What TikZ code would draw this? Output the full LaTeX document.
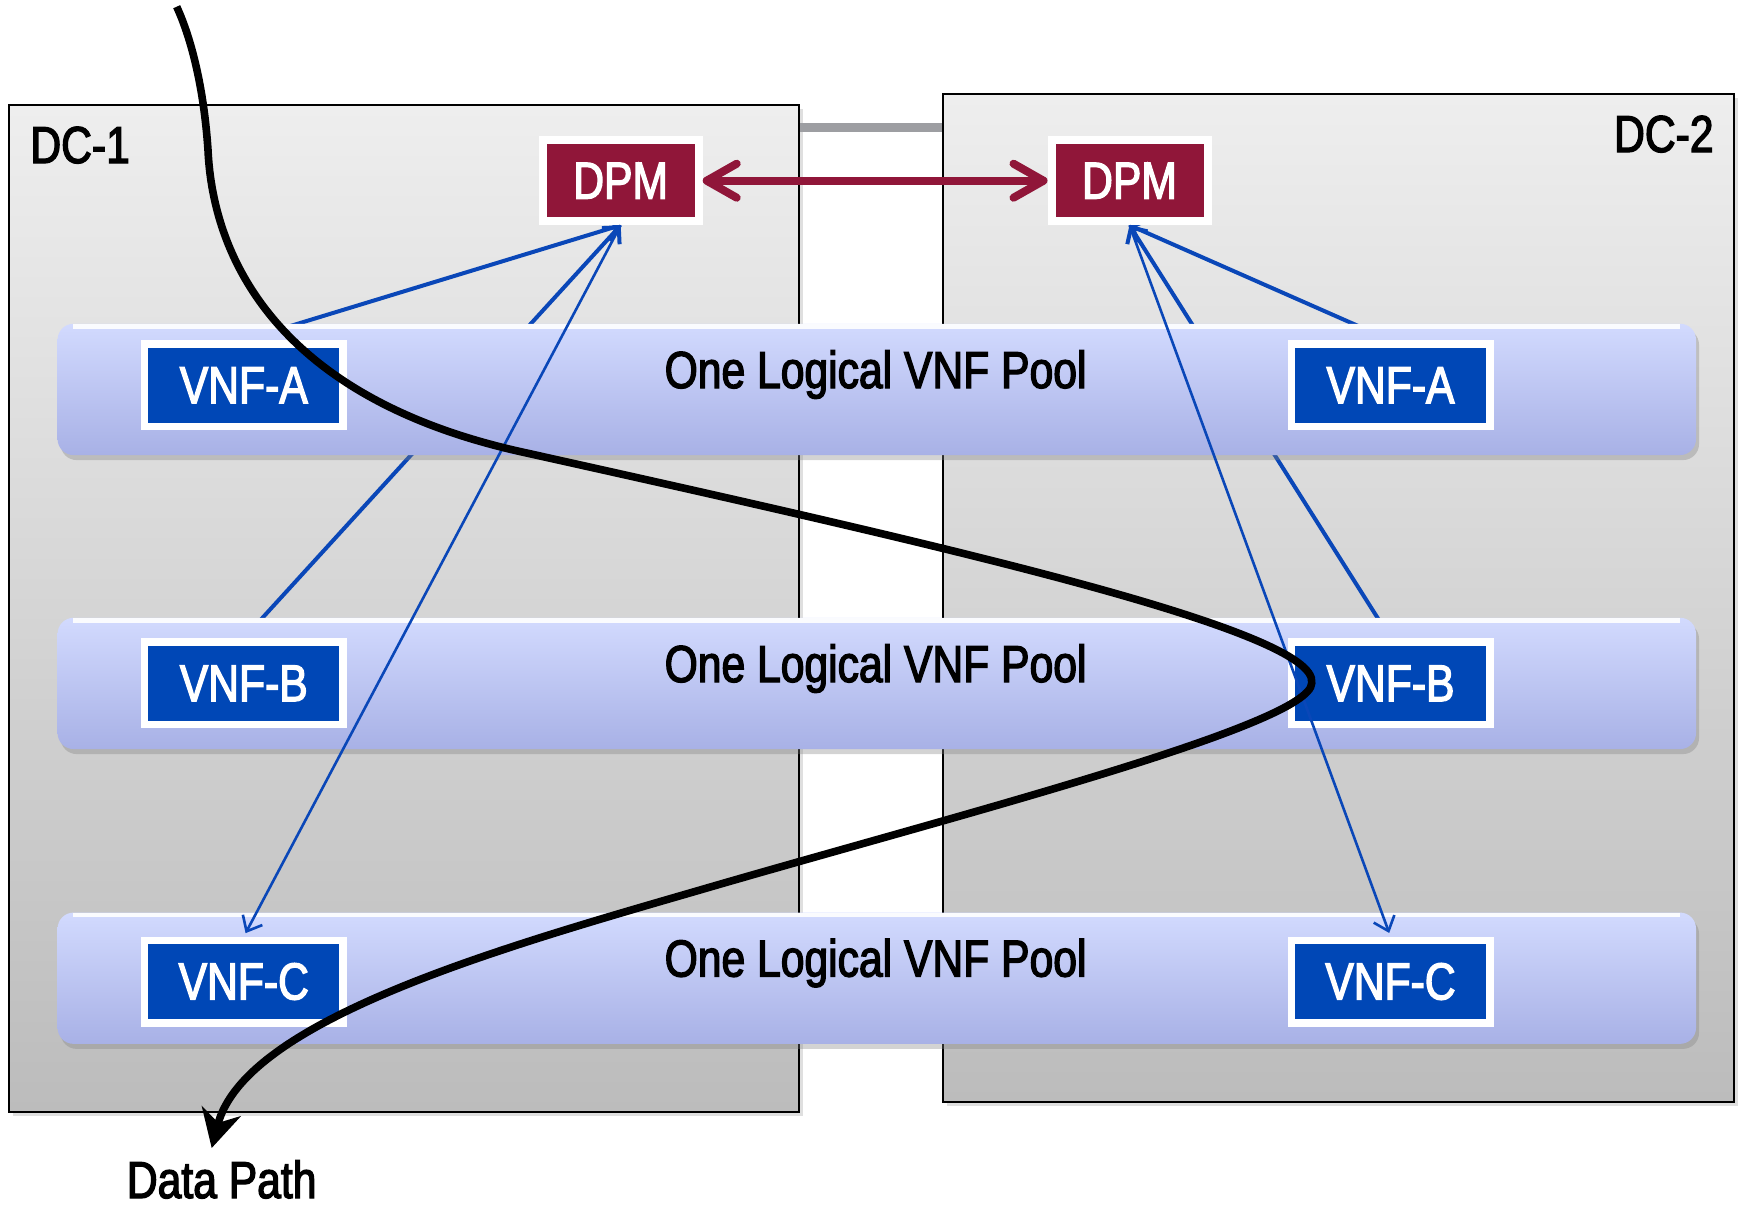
\documentclass[tikz,border=0pt]{standalone}
\usepackage{fontspec}
\setmainfont{Liberation Sans}[FakeStretch=0.82,FakeBold=2.5]
\usetikzlibrary{arrows.meta,shadows}
\definecolor{dpmred}{HTML}{901639}
\definecolor{vnfblue}{HTML}{0047B6}
\definecolor{linkblue}{HTML}{0A47B8}
\definecolor{linkgray}{HTML}{9D9EA2}
\definecolor{pooltop}{HTML}{D2DAFE}
\definecolor{poolbot}{HTML}{A8B1E6}
\definecolor{dctop}{HTML}{EEEEEE}
\definecolor{dcbot}{HTML}{BCBCBC}
\pgfdeclarelayer{bg}
\pgfdeclarelayer{behind}
\pgfsetlayers{bg,behind,main}
\begin{document}
\begin{tikzpicture}[x=0.5pt,y=-0.5pt,
  every node/.style={font=\fontsize{26}{30}\selectfont},
  dcbox/.style={draw=black,line width=1pt,top color=dctop,bottom color=dcbot,inner sep=0pt,
    drop shadow={shadow xshift=2pt,shadow yshift=-2pt,opacity=0.25}},
  poolbar/.style={rounded corners=8pt,top color=pooltop,bottom color=poolbot,inner sep=0pt,
    minimum width=819.2pt,minimum height=65.65pt,
    drop shadow={shadow xshift=1.5pt,shadow yshift=-2.5pt,opacity=0.35}},
  poolshine/.style={white,line width=2.2pt,opacity=0.9},
  pooltext/.style={text=black,inner sep=0pt,anchor=base},
  vnfbox/.style={fill=vnfblue,draw=white,line width=3.75pt,text=white,inner sep=0pt,
    minimum width=99.25pt,minimum height=41.25pt,
    drop shadow={shadow xshift=1pt,shadow yshift=-1.2pt,opacity=0.3}},
  dpmbox/.style={fill=dpmred,draw=white,line width=4pt,text=white,inner sep=0pt,
    minimum width=78pt,minimum height=40.5pt,
    drop shadow={shadow xshift=1pt,shadow yshift=-1.2pt,opacity=0.3}},
  dclabel/.style={text=black,inner sep=0pt,anchor=base},
  tolink/.style={draw=linkblue,line width=2pt,-{Straight Barb[length=6pt,width=12pt]}},
  tovnfc/.style={draw=linkblue,line width=1.3pt,shorten >=1.9pt,-{Straight Barb[length=6.5pt,width=11pt]}},
  dpmarrow/.style={draw=dpmred,line width=4pt,line cap=round,
    {Straight Barb[length=15pt,width=17pt,round]}-{Straight Barb[length=15pt,width=17pt,round]}},
  dclink/.style={draw=linkgray,line width=4.5pt},
  datapath/.style={draw=black,line width=3.8pt,-{Stealth[length=19pt,width=20pt,inset=6pt]}}
]
\useasboundingbox (0,0) rectangle (1738,1207);

% data centres
\begin{pgfonlayer}{bg}
  \node[dcbox,minimum width=395.2pt,minimum height=503.2pt] (dc1) at (404.1,608.5) {};
  \node[dcbox,minimum width=395.4pt,minimum height=503.75pt] (dc2) at (1338.1,598) {};
  \coordinate (lk) at (0,127.3);
  \draw[dclink] (dc1.east |- lk) -- (dc2.west |- lk);
\end{pgfonlayer}

\node[dclabel,anchor=base west] (dc1label) at (30,163) {DC-1};
\node[dclabel,anchor=base east] (dc2label) at (1714,152) {DC-2};

% pools
\node[poolbar] (pool1) at (876.8,389.4) {};
\node[poolbar] (pool2) at (876.8,683.4) {};
\node[poolbar] (pool3) at (876.8,978.2) {};
\foreach \p in {pool1,pool2,pool3}{
  \draw[poolshine] ([xshift=8pt,yshift=-1.5pt]\p.north west) -- ([xshift=-8pt,yshift=-1.5pt]\p.north east);
}
\node[pooltext] (pt1) at (875.6,388) {One Logical VNF Pool};
\node[pooltext] (pt2) at (875.6,682) {One Logical VNF Pool};
\node[pooltext] (pt3) at (875.6,976.5) {One Logical VNF Pool};

% VNF boxes
\node[vnfbox] (vnfA1) at (243.8,385.2) {VNF-A};
\node[vnfbox] (vnfB1) at (243.8,683.3) {VNF-B};
\node[vnfbox] (vnfC1) at (243.8,981.5) {VNF-C};
\node[vnfbox] (vnfA2) at (1390.5,385.2) {VNF-A};
\node[vnfbox] (vnfB2) at (1390.5,683.3) {VNF-B};
\node[vnfbox] (vnfC2) at (1390.5,981.5) {VNF-C};

% DPM boxes
\node[dpmbox] (dpm1) at (620.7,180.7) {DPM};
\node[dpmbox] (dpm2) at (1129.5,180.7) {DPM};

% links behind the pools
\begin{pgfonlayer}{behind}
  \draw[tolink] (vnfA1.north) -- (dpm1.south);
  \draw[tolink] (vnfB1.north) -- (dpm1.south);
  \draw[tolink] (vnfA2.north) -- (dpm2.south);
  \draw[tolink] (vnfB2.north) -- (dpm2.south);
\end{pgfonlayer}

% links on top
\draw[tovnfc] (dpm1.south) -- (vnfC1.north);
\draw[tovnfc] (dpm2.south) -- (vnfC2.north);

% DPM to DPM
\draw[dpmarrow] (dpm1.east) -- (dpm2.west);

% data path
\coordinate (dpstart) at (176.7,6.7);
\coordinate (dpturn) at (1311.7,683);
\coordinate (dpend) at (211.7,1148);
\draw[datapath] (dpstart)
  .. controls (192,40) and (204,90) .. (208,150)
  .. controls (213,260) and (280,400) .. (526.7,453)
  .. controls (926.7,542) and (1320,630) .. (dpturn)
  .. controls (1311.7,725) and (950,817) .. (700,890)
  .. controls (500,948) and (245,1020) .. (dpend);
\node[dclabel] (dplabel) at (221.7,1198) {Data Path};
\end{tikzpicture}
\end{document}
